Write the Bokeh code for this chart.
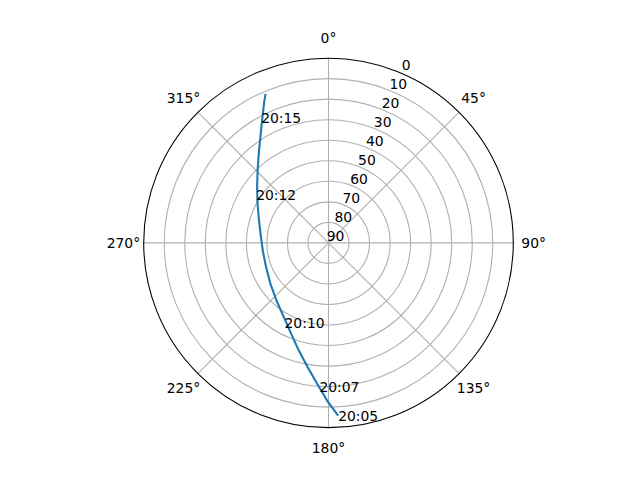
import numpy as np
from bokeh.plotting import figure
from bokeh.models import Range1d
from bokeh.core.properties import value
from bokeh.embed import file_html
from bokeh.resources import INLINE

# ---- data (azimuth in degrees clockwise from north, elevation in degrees) ----
track_az = [176.8, 180.5, 184.6, 189.5, 195.4, 202.3, 211.0, 222.1, 234.8, 248.7, 262.1,
            276.2, 289.1, 299.8, 308.8, 316.3, 322.5, 327.7, 331.9, 335.4, 337.1]
track_el = [5.8, 13.2, 21.2, 28.6, 35.6, 42.1, 47.8, 52.2, 55.4, 57.4, 57.8,
            56.8, 54.1, 50.1, 45.4, 40.1, 34.3, 28.1, 21.5, 14.7, 11.2]

label_text = ["20:05", "20:07", "20:10", "20:12", "20:15"]
label_az = [176.8, 183.6, 208.7, 303.6, 331.7]
label_el = [5.8, 19.6, 45.4, 47.7, 20.8]

ring_ticks = [0, 10, 20, 30, 40, 50, 60, 70, 80, 90]
theta_ticks = [0, 45, 90, 135, 180, 225, 270, 315]
theta_labels = ["0°", "45°", "90°", "135°", "180°", "225°", "270°", "315°"]

RMAX = 90.0


def to_xy(az, el):
    r = RMAX - np.asarray(el, dtype=float)
    t = np.radians(np.asarray(az, dtype=float))
    return r * np.sin(t), r * np.cos(t)


# ---- figure geometry ----
W, H = 624, 464
cx_px, cy_px = 328.0, 242.4       # centre of polar area in figure pixels
R_px = 184.8
s = R_px / RMAX
x0 = -cx_px / s
x1 = (W - cx_px) / s
y1 = cy_px / s
y0 = -(H - cy_px) / s

p = figure(width=W, height=H, output_backend="svg", toolbar_location=None,
           x_range=Range1d(x0, x1), y_range=Range1d(y0, y1),
           min_border=0, tools="")
p.axis.visible = False
p.grid.visible = False
p.outline_line_color = None
p.background_fill_color = "white"
p.border_fill_color = "white"

FONT = value("DejaVu Sans")
FS = "13.9px"
GRID = "#b0b0b0"

# grid rings
ring_r = [RMAX - e for e in ring_ticks if 0 < e < 90]
p.circle(x=[0] * len(ring_r), y=[0] * len(ring_r), radius=ring_r,
         fill_color=None, line_color=GRID, line_width=1.1)

# spokes
for a in theta_ticks:
    xs, ys = to_xy([a, a], [90, 0])
    p.line(xs, ys, line_color=GRID, line_width=1.1)

# outer spine
p.circle(x=[0], y=[0], radius=[RMAX], fill_color=None, line_color="black", line_width=1.1)

# track
tx, ty = to_xy(track_az, track_el)
p.line(tx, ty, line_color="#1f77b4", line_width=2.1)

# time labels
lx, ly = to_xy(label_az, label_el)
p.text(x=lx, y=ly, text=label_text, text_font=FONT, text_font_size=FS,
       text_align="left", text_baseline="alphabetic", text_color="black")

# theta labels
off = 20.3 / s
thx, thy = to_xy(theta_ticks, [-off] * len(theta_ticks))
p.text(x=thx, y=thy, text=theta_labels, text_font=FONT, text_font_size=FS,
       text_align="center", text_baseline="middle", text_color="black")

# radial labels
rx, ry = to_xy([22.5] * len(ring_ticks), ring_ticks)
p.text(x=rx, y=ry, text=[str(v) for v in ring_ticks], text_font=FONT, text_font_size=FS,
       text_align="center", text_baseline="middle", text_color="black",
       x_offset=7, y_offset=-7)

open("out.html", "w").write(file_html(p, INLINE))
